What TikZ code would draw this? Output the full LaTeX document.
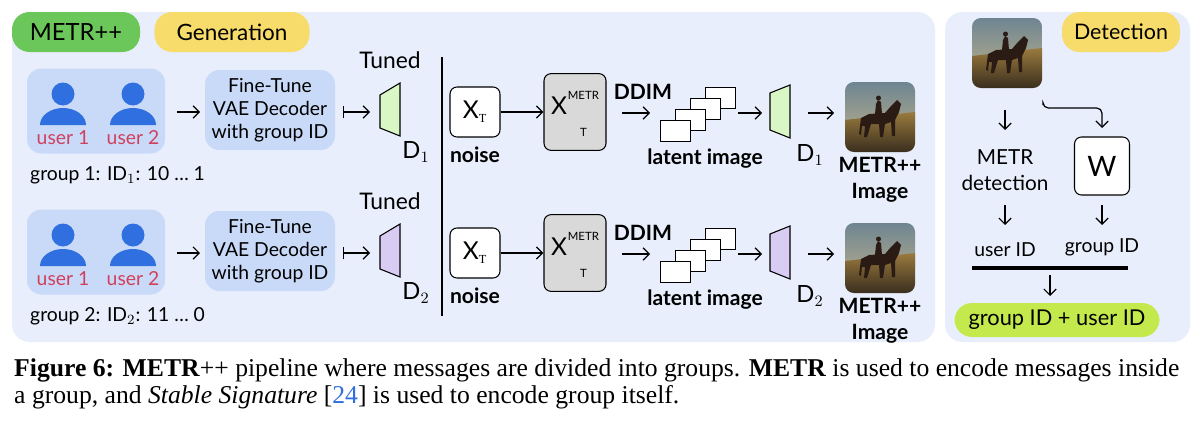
\documentclass[tikz,border=0pt]{standalone}
\usepackage{fontspec}
\setmainfont{Liberation Serif}
\newfontfamily\dfont{Lato}
\usetikzlibrary{arrows.meta}
\definecolor{panel}{HTML}{E8EEFB}
\definecolor{grp}{HTML}{C9DAF8}
\definecolor{ublue}{HTML}{2F6FE0}
\definecolor{ured}{HTML}{D0405E}
\definecolor{pgreen}{HTML}{6CC75A}
\definecolor{pyellow}{HTML}{F8DC6B}
\definecolor{lgreen}{HTML}{C3E94C}
\definecolor{tgreen}{HTML}{D9F7C5}
\definecolor{tpurple}{HTML}{D9CCF2}
\definecolor{gbox}{HTML}{D9D9D9}
\definecolor{sky1}{HTML}{6E8591}
\definecolor{sky2}{HTML}{A7A58E}
\definecolor{gr1}{HTML}{9A7A3E}
\definecolor{gr2}{HTML}{3A2E1E}
\definecolor{horse}{HTML}{2A1C14}
\tikzset{
 x=0.02cm,y=-0.02cm,
 every node/.style={font=\dfont\fontsize{11}{13}\selectfont, text=black},
 arr/.style={-{Straight Barb[length=3.5pt,width=7pt]}, line width=0.7pt},
 marr/.style={{Bar[width=7pt]}-{Straight Barb[length=3.5pt,width=7pt]}, line width=0.7pt},
 pill/.style={rounded corners=10pt, inner sep=0pt},
 box/.style={draw=black, line width=0.6pt, rounded corners=4pt, minimum width=50*0.02cm, minimum height=50*0.02cm},
 lbl/.style={font=\dfont\bfseries\fontsize{12}{14.5}\selectfont},
}
\newcommand{\usericon}[2]{%
  \fill[ublue] (#1,#2-11) circle (11.5);
  \fill[ublue] (#1-23,#2+20) arc[start angle=180,end angle=360,x radius=23,y radius=17] -- cycle;}
\newcommand{\horsepic}[2]{%
  \begin{scope}[shift={(#1,#2)}]
  \clip[rounded corners=5pt] (0,0) rectangle (70,70);
  \shade[top color=sky1, bottom color=sky2] (0,0) rectangle (70,45);
  \shade[top color=gr1, bottom color=gr2] (0,38) -- (70,30) -- (70,70) -- (0,70) -- cycle;
  \fill[horse] (14,52) -- (16,36) -- (24,32) -- (40,31) -- (46,24) -- (52,18) -- (56,22) -- (54,30) -- (50,38) -- (50,54) -- (47,54) -- (46,40) -- (40,42) -- (38,55) -- (35,55) -- (34,42) -- (26,42) -- (22,55) -- (19,55) -- (20,44) -- (17,44) -- (16,53) -- cycle;
  \fill[horse] (30,32) -- (31,22) -- (33,18) -- (36,20) -- (37,32) -- cycle;
  \fill[horse] (33.5,16) circle (2.5);
  \end{scope}}
\begin{document}
\begin{tikzpicture}
\useasboundingbox (0,0) rectangle (1200,426);
\fill[white] (0,0) rectangle (1200,426);
% panels
\fill[panel, rounded corners=10pt] (12,12) rectangle (935,342);
\fill[panel, rounded corners=10pt] (945,12) rectangle (1190,342);
\node[pill, fill=pgreen, minimum width=128*0.02cm, minimum height=40*0.02cm] (metr) at (76,32) {\fontsize{13.5}{15}\selectfont METR++};
\node[pill, fill=pyellow, minimum width=155*0.02cm, minimum height=40*0.02cm] (gen) at (232,32) {\fontsize{12.8}{15}\selectfont Generation};
\node[pill, fill=pyellow, minimum width=118*0.02cm, minimum height=40*0.02cm] (det) at (1121,32) {\fontsize{12.2}{15}\selectfont Detection};
% vertical divider
\draw[line width=1.4pt] (442,57) -- (442,316);
\foreach \rr/\dy/\tc/\idv in {1/0/tgreen/{10 \ldots\ 1}, 2/141/tpurple/{11 \ldots\ 0}}{
 \begin{scope}[yshift=-\dy*0.02cm]
  \node[fill=grp, rounded corners=8pt, minimum width=138*0.02cm, minimum height=85*0.02cm] (grp\rr) at (96,111) {};
  \usericon{63}{105}
  \usericon{133}{105}
  \node[text=ured] (u1\rr) at (63,138) {user 1};
  \node[text=ured] (u2\rr) at (133,138) {user 2};
  \node[anchor=west] (gl\rr) at (24,175) {group \rr: ID$_{\rr}$: \idv};
  \node[fill=grp, rounded corners=8pt, minimum width=130*0.02cm, minimum height=80*0.02cm, align=center] (ft\rr) at (270,110) {Fine-Tune\\VAE Decoder\\with group ID};
  \draw[arr] (177,112) -- (200,112);
  \coordinate (ta\rr) at (343,112);
  \coordinate (tb\rr) at (370,112);
  \draw[marr] (ta\rr) -- (tb\rr);
  \filldraw[fill=\tc, draw=black, line width=0.6pt] (380,95) -- (400,83) -- (400,136) -- (380,128) -- cycle;
  \node (tun\rr) at (390,60) {\fontsize{13}{15}\selectfont Tuned};
  \node (dl\rr) at (416,152) {\fontsize{13.5}{15}\selectfont D$_{\rr}$};
  \node[box, fill=white] (xt\rr) at (475,112) {\fontsize{14}{16}\selectfont X$_{\scriptscriptstyle\mathrm T}$};
  \node[lbl] (noise\rr) at (475,155) {noise};
  \node[box, fill=gbox, minimum width=62*0.02cm, minimum height=62*0.02cm] (xm\rr) at (575,112) {\fontsize{14}{16}\selectfont X\hspace{0.5pt}\raisebox{-2pt}{\begin{tabular}{@{}c@{}}\fontsize{6.5}{7}\selectfont METR\\[5pt]\fontsize{6.5}{7}\selectfont T\end{tabular}}};
  \draw[arr] (xt\rr) -- (xm\rr);
  \node[lbl] (ddim\rr) at (643,92) {DDIM};
  \draw[arr] (622,113) -- (650,113);
  \foreach \k in {3,2,1,0}{
    \filldraw[fill=white, draw=black, line width=0.5pt] (660+15*\k,120-11*\k) rectangle (690+15*\k,141-11*\k);}
  \node[lbl] (lat\rr) at (705,159) {latent image};
  \draw[arr] (738,113) -- (762,113);
  \filldraw[fill=\tc, draw=black, line width=0.6pt] (770,93) -- (790,85) -- (790,138) -- (770,130) -- cycle;
  \node (dr\rr) at (810,155) {\fontsize{13.5}{15}\selectfont D$_{\rr}$};
  \draw[arr] (808,113) -- (834,113);
  \horsepic{845}{82}
  \node[lbl, align=center] (mi\rr) at (880,180) {METR++\\Image};
 \end{scope}}
% detection
\horsepic{972}{18}
\node[align=center, font=\dfont\fontsize{11.8}{15}\selectfont] (md) at (1005,170) {METR\\detection};
\node[box, fill=white, minimum width=55*0.02cm, minimum height=58*0.02cm] (w) at (1102,166) {\fontsize{16}{18}\selectfont W};
\draw[arr] (1005,110) -- (1005,130);
\draw[arr, rounded corners=3pt] (1043,105) -- (1043,108) -- (1102,108) -- (1102,128);
\node (uid) at (1005,250) {user ID};
\node (gid) at (1102,247) {group ID};
\draw[arr] (1005,205) -- (1005,225);
\draw[arr] (1102,205) -- (1102,225);
\draw[line width=2pt] (972,268) -- (1128,268);
\draw[arr] (1050,275) -- (1050,296);
\node[pill, fill=lgreen, minimum width=205*0.02cm, minimum height=34*0.02cm] (res) at (1057,320) {\fontsize{12.4}{15}\selectfont group ID + user ID};
% caption
\node[anchor=west, font=\fontsize{14.6}{18}\selectfont] (cap1) at (8,370) {\textbf{Figure 6: METR}++ pipeline where messages are divided into groups. \textbf{METR} is used to encode messages inside};
\node[anchor=west, font=\fontsize{14.6}{18}\selectfont] (cap2) at (8,397) {a group, and \textit{Stable Signature} [\textcolor{ublue}{24}] is used to encode group itself.};
\end{tikzpicture}
\end{document}
